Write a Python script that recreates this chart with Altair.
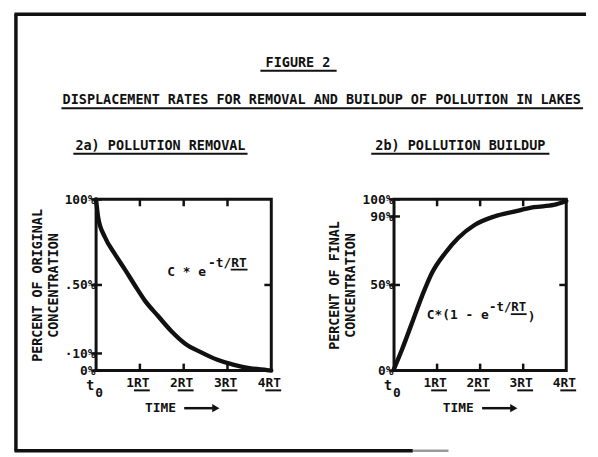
import altair as alt
import pandas as pd

FONT = "DejaVu Sans Mono"
INK = "#111111"

# ---- data ----
removal_t = [0, 0.05, 0.2, 0.43, 0.66, 0.88, 1.11, 1.41, 1.72, 2.02, 2.4, 2.77, 3.15, 3.53, 3.9, 4.0]
removal_pct = [100, 89, 78, 68, 59, 50, 41, 32, 23, 16, 10.6, 6.3, 3.3, 1.3, 0.3, 0]

buildup_t = [0, 0.19, 0.42, 0.65, 0.88, 1.19, 1.49, 1.87, 2.33, 2.79, 3.25, 3.71, 4.0]
buildup_pct = [1, 12.6, 28, 43.5, 57, 68.7, 77.4, 85, 90, 92.8, 95.4, 96.7, 99]

time_ticks = [1, 2, 3, 4]
time_labels = ["1RT", "2RT", "3RT", "4RT"]
origin_label = ["t"]
origin_sub = ["0"]
inner_ticks = [1, 2, 3]

left_y_values = [100, 50, 10, 0]
left_y_labels = ["100%", ".50%", "\u00b710%", "0%"]
right_y_values = [100, 90, 50, 0]
right_y_labels = ["100%", "90%", "50%", "0%"]

fig_title = "FIGURE  2"
fig_subtitle = "DISPLACEMENT RATES FOR REMOVAL AND BUILDUP OF POLLUTION IN LAKES"
left_heading = "2a) POLLUTION REMOVAL"
right_heading = "2b) POLLUTION BUILDUP"
left_ytitle = ["PERCENT OF ORIGINAL", "CONCENTRATION"]
right_ytitle = ["PERCENT OF FINAL", "CONCENTRATION"]
time_word = "TIME"
left_formula = ["C * e", "-t/RT"]
right_formula = ["C*(1 - e", "-t/RT", ")"]

W1, W2, H = 177, 174, 173


def label_expr(values, labels):
    parts = [f"datum.value == {v} ? '{l}'" for v, l in zip(values, labels)]
    return " : ".join(parts) + " : ''"


def note(text, x, y, size=13, align="center", baseline="middle"):
    return alt.Chart(pd.DataFrame({"s": [text]})).mark_text(
        font=FONT, fontSize=size, fontWeight="bold", color=INK,
        align=align, baseline=baseline
    ).encode(x=alt.value(x), y=alt.value(y), text="s:N")


def hline(x1, x2, y, w=2, color=INK):
    return alt.Chart(pd.DataFrame({"a": [0]})).mark_rule(
        color=color, strokeWidth=w, strokeCap="butt"
    ).encode(x=alt.value(x1), x2=alt.value(x2), y=alt.value(y))


def vline(x, y1, y2, w=2, color=INK):
    return alt.Chart(pd.DataFrame({"a": [0]})).mark_rule(
        color=color, strokeWidth=w, strokeCap="butt"
    ).encode(x=alt.value(x), y=alt.value(y1), y2=alt.value(y2))


def panel(t, pct, W, yvals, ylabels, ytitle, title_pad, heading, head_x, head_w,
          formula, f_pos, f_ul, extras):
    xs = alt.Scale(domain=[0, 4], nice=False)
    ys = alt.Scale(domain=[0, 100], nice=False)
    yaxis = alt.Axis(
        values=yvals, labelExpr=label_expr(yvals, ylabels),
        domain=False, ticks=False, grid=False,
        labelFont=FONT, labelFontSize=13, labelFontWeight="bold",
        labelColor=INK, labelPadding=1, labelFlush=False, labelOverlap=False,
        title=ytitle, titleFont=FONT, titleFontSize=13.5, titleFontWeight="bold",
        titleColor=INK, titlePadding=title_pad, titleLineHeight=16,
    )

    curve = alt.Chart(pd.DataFrame({"t": t, "pct": pct})).mark_line(
        color=INK, strokeWidth=4.4, interpolate="monotone", strokeCap="round"
    ).encode(
        x=alt.X("t:Q", scale=xs, axis=None),
        y=alt.Y("pct:Q", scale=ys, axis=yaxis),
    )

    ytk = alt.Chart(pd.DataFrame({"pct": yvals})).mark_rule(color=INK, strokeWidth=2.5).encode(
        y=alt.Y("pct:Q", scale=ys, axis=yaxis), x=alt.value(-5), x2=alt.value(6))
    right_tk = alt.Chart(pd.DataFrame({"pct": [50]})).mark_rule(color=INK, strokeWidth=2.5).encode(
        y=alt.Y("pct:Q", scale=ys, axis=yaxis), x=alt.value(W - 7), x2=alt.value(W))
    top_tk = alt.Chart(pd.DataFrame({"t": inner_ticks})).mark_rule(color=INK, strokeWidth=2.5).encode(
        x=alt.X("t:Q", scale=xs, axis=None), y=alt.value(0), y2=alt.value(7))
    bot_tk = alt.Chart(pd.DataFrame({"t": inner_ticks})).mark_rule(color=INK, strokeWidth=2.5).encode(
        x=alt.X("t:Q", scale=xs, axis=None), y=alt.value(H - 7), y2=alt.value(H))

    tick_df = pd.DataFrame({"t": time_ticks, "s": time_labels})
    xlab = alt.Chart(tick_df).mark_text(
        font=FONT, fontSize=13, fontWeight="bold", color=INK, baseline="middle", dx=-2
    ).encode(x=alt.X("t:Q", scale=xs, axis=None), y=alt.value(H + 13), text="s:N")
    xul = alt.Chart(tick_df).mark_rule(
        color=INK, strokeWidth=2, xOffset=-6, x2Offset=10
    ).encode(x=alt.X("t:Q", scale=xs, axis=None), x2="t:Q", y=alt.value(H + 20))
    t0 = alt.Chart(pd.DataFrame({"t": [0], "s": origin_label})).mark_text(
        font=FONT, fontSize=13.5, fontWeight="bold", color=INK, baseline="middle", dx=-6
    ).encode(x=alt.X("t:Q", scale=xs, axis=None), y=alt.value(H + 16), text="s:N")
    t0s = alt.Chart(pd.DataFrame({"t": [0], "s": origin_sub})).mark_text(
        font=FONT, fontSize=13, fontWeight="bold", color=INK, baseline="middle", dx=3
    ).encode(x=alt.X("t:Q", scale=xs, axis=None), y=alt.value(H + 23), text="s:N")

    time_txt = note(time_word, 65, H + 38)
    arrow = hline(89, 118, H + 38, w=2.5)
    head = alt.Chart(pd.DataFrame({"a": [0]})).mark_point(
        shape="triangle-right", filled=True, color=INK, size=70, opacity=1
    ).encode(x=alt.value(121), y=alt.value(H + 38))

    head_txt = note(heading, head_x, -54, size=13.6)
    head_ul = hline(head_x - head_w / 2, head_x + head_w / 2, -46, w=2)

    layers = [curve, ytk, right_tk, top_tk, bot_tk, xlab, xul, t0, t0s,
              time_txt, arrow, head, head_txt, head_ul]
    for s, (x, y, size) in zip(formula, f_pos):
        layers.append(note(s, x, y, size=size, align="left"))
    layers.append(hline(f_ul[0], f_ul[1], f_ul[2], w=1.8))
    layers += extras
    return alt.layer(*layers).properties(width=W, height=H)


# frame & figure titles live in the left panel's coordinate frame (origin at its plot area)
frame = [
    vline(-81, -187, 254, w=3.5),
    hline(-82.5, 495, -187, w=3.5),
    hline(-82.5, 320, 254, w=3.5),
    hline(320, 356, 254, w=2.5, color="#9a9a9a"),
]
titles = [
    note(fig_title, 204, -138, size=13.6),
    hline(166, 243, -130, w=2),
    note(fig_subtitle, 228, -100, size=13.6),
    hline(-35, 492, -92, w=2),
]

left = panel(
    removal_t, removal_pct, W1, left_y_values, left_y_labels, left_ytitle, 4,
    left_heading, 65, 176,
    left_formula, [(72, 73, 13), (113, 64, 13)], (136, 153, 71),
    frame + titles,
)
right = panel(
    buildup_t, buildup_pct, W2, right_y_values, right_y_labels, right_ytitle, 5,
    right_heading, 67, 180,
    right_formula, [(33, 117, 13), (96, 109, 12.5), (135, 119, 13)], (118, 134, 116),
    [],
)

chart = alt.hconcat(left, right, spacing=124, bounds="flush").configure_view(
    stroke=INK, strokeWidth=3
).properties(
    padding={"left": 3, "top": 0, "right": 0, "bottom": 0},
    background="white",
)

chart.save("out.html", embed_options={"renderer": "svg", "actions": False})
